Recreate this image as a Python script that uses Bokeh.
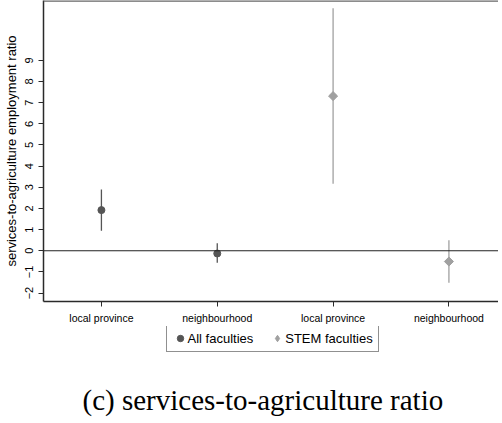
import math
from bokeh.plotting import figure
from bokeh.layouts import column
from bokeh.models import (ColumnDataSource, FixedTicker, Span, Legend, LegendItem, Title)
from bokeh.embed import file_html
from bokeh.resources import INLINE

# ---- data ----
tick_positions = [1, 2, 3, 4]
tick_labels = ["local province", "neighbourhood", "local province", "neighbourhood"]

all_x = [1, 2]
all_est = [1.92, -0.13]
all_lo = [0.95, -0.57]
all_hi = [2.90, 0.35]

stem_x = [3, 4]
stem_est = [7.31, -0.51]
stem_lo = [3.17, -1.51]
stem_hi = [11.46, 0.50]

series_names = ["All faculties", "STEM faculties"]
caption = "(c) services-to-agriculture ratio"

y_ticks = [-2, -1, 0, 1, 2, 3, 4, 5, 6, 7, 8, 9]
Y_START, Y_END = -2.40, 11.83
X_START, X_END = 0.5, 4.428

DARK = "#555555"
LIGHT = "#a0a0a0"
FRAME = "#2a2a2a"

p = figure(width=498, height=326, x_range=(X_START, X_END), y_range=(Y_START, Y_END),
           output_backend="svg", toolbar_location=None,
           min_border_left=42, min_border_right=0, min_border_top=0, min_border_bottom=25,
           outline_line_color=None, background_fill_color="white", border_fill_color="white")
p.grid.visible = False

src_all = ColumnDataSource(dict(x=all_x, est=all_est, lo=all_lo, hi=all_hi))
src_stem = ColumnDataSource(dict(x=stem_x, est=stem_est, lo=stem_lo, hi=stem_hi))

p.segment(x0="x", y0="lo", x1="x", y1="hi", source=src_all, line_color=DARK, line_width=1.3)
p.segment(x0="x", y0="lo", x1="x", y1="hi", source=src_stem, line_color=LIGHT, line_width=1.3)
p.scatter(x="x", y="est", source=src_all, marker="circle", size=7,
          fill_color=DARK, line_color=DARK)
p.scatter(x="x", y="est", source=src_stem, marker="square", size=6.4, angle=math.pi / 4,
          fill_color=LIGHT, line_color=LIGHT)

p.add_layout(Span(location=0, dimension="width", line_color="#222222", line_width=1.2))
p.add_layout(Span(location=Y_END, dimension="width", line_color="#666666", line_width=2.4))

# axes
xa = p.xaxis[0]
xa.ticker = FixedTicker(ticks=tick_positions)
xa.major_label_overrides = {t: l for t, l in zip(tick_positions, tick_labels)}
xa.major_label_text_font = "Liberation Sans"
xa.major_label_text_font_size = "10.5px"
xa.major_label_text_color = "black"
xa.major_label_standoff = 5
xa.major_tick_out = 5
xa.major_tick_in = 0
xa.minor_tick_out = 0
xa.minor_tick_in = 0
xa.axis_line_color = FRAME
xa.axis_line_width = 1.5
xa.major_tick_line_color = FRAME

ya = p.yaxis[0]
ya.ticker = FixedTicker(ticks=y_ticks)
ya.major_label_orientation = "vertical"
ya.major_label_text_font = "Liberation Sans"
ya.major_label_text_font_size = "11px"
ya.major_label_text_color = "black"
ya.major_label_standoff = 5
ya.major_tick_out = 5
ya.major_tick_in = 0
ya.minor_tick_out = 0
ya.minor_tick_in = 0
ya.axis_line_color = FRAME
ya.axis_line_width = 1.5
ya.major_tick_line_color = FRAME
ya.axis_label = "services-to-agriculture employment ratio"
ya.axis_label_text_font = "Liberation Sans"
ya.axis_label_text_font_size = "13px"
ya.axis_label_text_font_style = "normal"
ya.axis_label_text_color = "black"
ya.axis_label_standoff = 4

# ---- legend + caption figure (its ranges keep the key glyphs out of view) ----
q = figure(width=498, height=91, x_range=(-2, -1), y_range=(-2, -1),
           output_backend="svg", toolbar_location=None,
           x_axis_location=None, y_axis_location=None,
           min_border_left=0, min_border_right=0, min_border_top=0, min_border_bottom=36,
           outline_line_color=None, background_fill_color="white", border_fill_color="white")
q.grid.visible = False
k_all = q.scatter(x="x", y="est", source=src_all, marker="circle",
                  fill_color=DARK, line_color=DARK)
k_stem = q.scatter(x="x", y="est", source=src_stem, marker="diamond",
                   fill_color=LIGHT, line_color=LIGHT)

legend = Legend(items=[LegendItem(label=series_names[0], renderers=[k_all]),
                       LegendItem(label=series_names[1], renderers=[k_stem])],
                orientation="horizontal", location=(122.5, 27),
                label_text_font="Liberation Sans", label_text_font_size="13px",
                label_text_color="black",
                border_line_color="#222222", border_line_width=1,
                padding=5, spacing=16, glyph_width=16, glyph_height=16,
                label_height=16, label_standoff=0, margin=0)
q.add_layout(legend, "center")

cap = Title(text=caption, align="left", offset=39, standoff=4,
            text_font="Liberation Serif", text_font_size="29px",
            text_font_style="normal", text_color="black")
q.add_layout(cap, "below")

layout = column(p, q, spacing=0)
open("out.html", "w").write(file_html(layout, INLINE))
